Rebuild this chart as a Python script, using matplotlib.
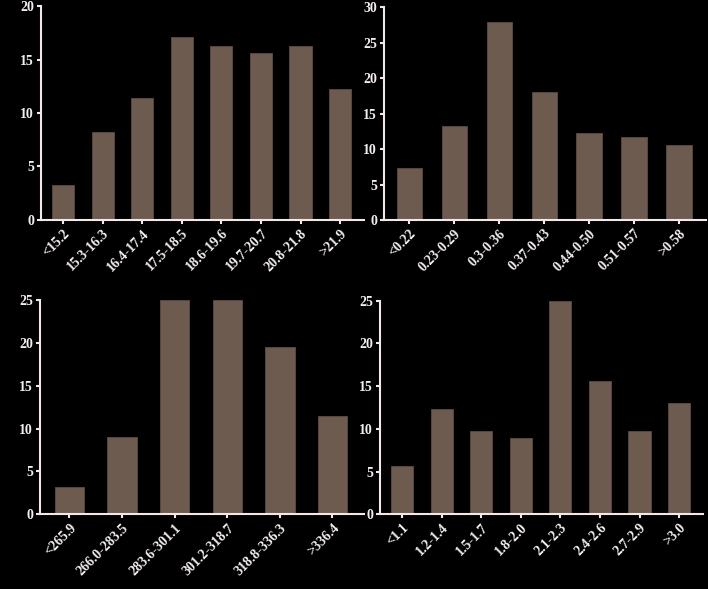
import matplotlib
matplotlib.use("Agg")
import matplotlib.pyplot as plt

plt.rcParams['font.family'] = ['Liberation Serif', 'DejaVu Serif']
plt.rcParams['font.weight'] = 'bold'

cats_a = ["<15.2", "15.3-16.3", "16.4-17.4", "17.5-18.5", "18.6-19.6", "19.7-20.7", "20.8-21.8", ">21.9"]
vals_a = [3.3, 8.25, 11.4, 17.1, 16.3, 15.6, 16.3, 12.2]
yticks_a = [0, 5, 10, 15, 20]

cats_b = ["<0.22", "0.23-0.29", "0.3-0.36", "0.37-0.43", "0.44-0.50", "0.51-0.57", ">0.58"]
vals_b = [7.4, 13.3, 27.9, 18.05, 12.3, 11.65, 10.65]
yticks_b = [0, 5, 10, 15, 20, 25, 30]

cats_c = ["<265.9", "266.0-283.5", "283.6-301.1", "301.2-318.7", "318.8-336.3", ">336.4"]
vals_c = [3.15, 9.0, 25.0, 25.0, 19.5, 11.5]
yticks_c = [0, 5, 10, 15, 20, 25]

cats_d = ["<1.1", "1.2-1.4", "1.5-1.7", "1.8-2.0", "2.1-2.3", "2.4-2.6", "2.7-2.9", ">3.0"]
vals_d = [5.65, 12.3, 9.75, 8.95, 25.0, 15.55, 9.75, 13.0]
yticks_d = [0, 5, 10, 15, 20, 25]

BAR = '#6e5b50'
AX = '#f3e7e7'
TXT = '#f5eeee'

fig = plt.figure(figsize=(7.08, 5.89), dpi=100, facecolor='black')

panels = [
    ([0.0579, 0.6265, 0.456, 0.3633], cats_a, vals_a, yticks_a),
    ([0.5424, 0.6265, 0.4548, 0.361], cats_b, vals_b, yticks_b),
    ([0.0565, 0.1268, 0.4576, 0.3638], cats_c, vals_c, yticks_c),
    ([0.5367, 0.1268, 0.456, 0.3627], cats_d, vals_d, yticks_d),
]

for rect, cats, vals, yt in panels:
    ax = fig.add_axes(rect)
    ax.set_facecolor('black')
    x = list(range(len(cats)))
    ax.bar(x, vals, width=0.56, color=BAR, edgecolor='#5e4c43', linewidth=0.6)
    ax.set_xlim(-0.56, len(cats) - 1 + 0.6)
    ax.set_ylim(0, yt[-1])
    ax.set_yticks(yt)
    ax.set_xticks(x)
    ax.set_xticklabels(cats, rotation=45, ha='right', rotation_mode='anchor')
    for s in ['top', 'right']:
        ax.spines[s].set_visible(False)
    for s in ['left', 'bottom']:
        ax.spines[s].set_color(AX)
        ax.spines[s].set_linewidth(1.5)
    ax.tick_params(colors=AX, length=3, width=1.5, labelsize=10, labelcolor=TXT, pad=2)
    for lab in ax.get_xticklabels() + ax.get_yticklabels():
        lab.set_fontweight('bold')

fig.savefig('out.png', dpi=100, facecolor='black')
